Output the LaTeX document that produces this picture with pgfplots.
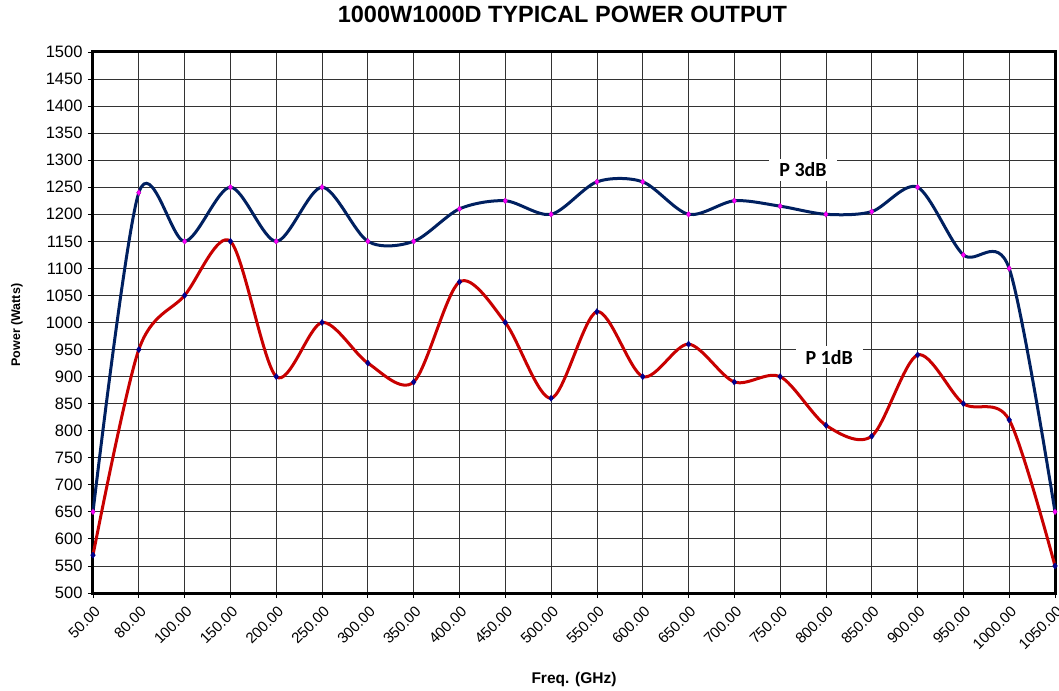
\documentclass[border=0pt]{standalone}
\usepackage{pgfplots}
\pgfplotsset{compat=1.18}
\usepackage{pgfplotstable}
\usepackage{fontspec}
\setmainfont{Liberation Sans}
\newfontfamily\calib{Carlito}
\definecolor{navyline}{RGB}{0,32,96}
\definecolor{redline}{RGB}{200,0,0}
\definecolor{markmag}{RGB}{255,0,255}
\definecolor{marknavy}{RGB}{0,0,140}

\pgfplotstableread{
x P3 P1
0 650 570
1 1240 950
2 1150 1050
3 1250 1150
4 1150 900
5 1250 1000
6 1150 925
7 1150 890
8 1210 1075
9 1225 1000
10 1200 860
11 1260 1020
12 1260 900
13 1200 960
14 1225 890
15 1215 900
16 1200 810
17 1205 790
18 1250 940
19 1125 850
20 1100 820
21 650 550
}\datatable

\begin{document}
\begin{tikzpicture}
\begin{axis}[
  scale only axis,
  width=962pt, height=541pt,
  xmin=0, xmax=21, ymin=500, ymax=1500,
  xtick={0,...,21},
  xticklabels={50.00,80.00,100.00,150.00,200.00,250.00,300.00,350.00,400.00,450.00,500.00,550.00,600.00,650.00,700.00,750.00,800.00,850.00,900.00,950.00,1000.00,1050.00},
  ytick={500,550,...,1500},
  /pgf/number format/assume math mode=true,
  /pgf/number format/1000 sep={},
  grid=major,
  grid style={black!80, line width=0.8pt},
  axis line style={line width=3pt, black},
  tick align=outside,
  major tick length=5pt,
  tick style={black, line width=0.8pt},
  xtick pos=bottom, ytick pos=left,
  y tick label style={font=\fontsize{16.5}{18}\selectfont, xshift=-2pt},
  x tick label style={font=\fontsize{15}{17}\selectfont, rotate=45, anchor=north east, xshift=-1pt, yshift=-2pt},
  title={\bfseries 1000W1000D TYPICAL POWER OUTPUT},
  title style={font=\fontsize{23.5}{26}\selectfont, at={(axis description cs:0.488,1.059)}, anchor=center},
  xlabel={\bfseries Freq. (GHz)},
  xlabel style={font=\fontsize{15.5}{17}\selectfont, at={(axis description cs:0.5,-0.159)}, anchor=center},
  ylabel={\bfseries Power (Watts)},
  ylabel style={font=\fontsize{12.5}{14}\selectfont, at={(axis description cs:-0.079,0.495)}, anchor=center, rotate=0},
  clip=false,
]
\addplot[navyline, line width=3pt, smooth, tension=0.5, mark=diamond*, mark size=3pt,
  mark options={fill=markmag, draw=markmag!70!black, line width=0.3pt}] table[x=x, y=P3] {\datatable};
\addplot[redline, line width=3pt, smooth, tension=0.5, mark=diamond*, mark size=3.2pt,
  mark options={fill=marknavy, draw=marknavy, line width=0.3pt}] table[x=x, y=P1] {\datatable};
\node[fill=white, inner xsep=10pt, inner ysep=4pt, font=\calib\bfseries\fontsize{20}{22}\selectfont] at (axis cs:15.5,1282) {P 3dB};
\node[fill=white, inner xsep=10pt, inner ysep=4pt, font=\calib\bfseries\fontsize{20}{22}\selectfont] at (axis cs:16.07,936) {P 1dB};
\coordinate (sw) at (rel axis cs:0,0);
\end{axis}
\pgfresetboundingbox
\path (sw) ++(-93pt,-97pt) rectangle ++(1059pt,690pt);
\end{tikzpicture}
\end{document}
